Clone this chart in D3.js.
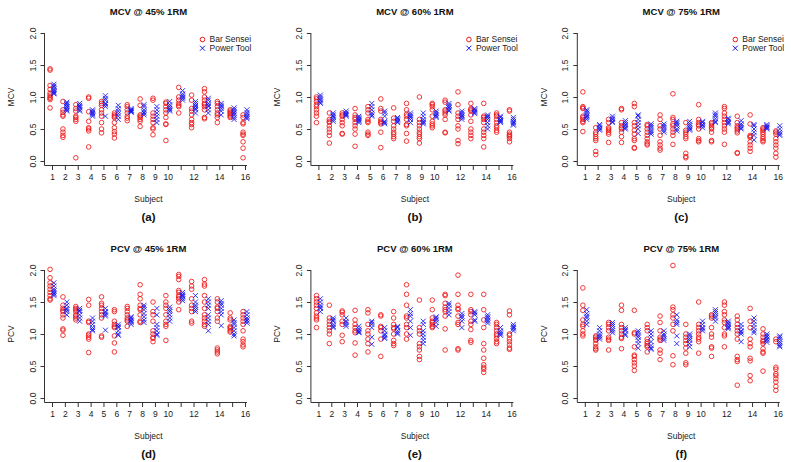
<!DOCTYPE html>
<html>
<head>
<meta charset="utf-8">
<script src="https://cdn.jsdelivr.net/npm/d3@7/dist/d3.min.js"></script>
<style>
  html, body { margin: 0; padding: 0; background: #fff; }
  svg { display: block; font-family: "Liberation Sans", Arial, sans-serif; }
</style>
</head>
<body>
<svg id="chart" width="791" height="462"></svg>
<script>
// ---------------- DATA ----------------
const subjects = d3.range(1, 17);
const xTickLabels = ["1","2","3","4","5","6","7","8","9","10","","12","","14","","16"];
const yTicks = [0, 0.5, 1.0, 1.5, 2.0];
const seriesNames = ["Bar Sensei", "Power Tool"];
const panelTitles = ["MCV @ 45% 1RM", "MCV @ 60% 1RM", "MCV @ 75% 1RM",
                     "PCV @ 45% 1RM", "PCV @ 60% 1RM", "PCV @ 75% 1RM"];
const yLabels = ["MCV", "MCV", "MCV", "PCV", "PCV", "PCV"];
const captions = ["(a)", "(b)", "(c)", "(d)", "(e)", "(f)"];

const mcv45Bar = [
  [1.44,1.42,1.18,1.12,1.06,1.03,1.0,0.98,0.96,0.83],
  [0.93,0.8,0.76,0.72,0.7,0.5,0.45,0.4,0.37],
  [0.88,0.82,0.78,0.7,0.68,0.65,0.62,0.05],
  [1.0,0.98,0.77,0.62,0.52,0.5,0.47,0.22],
  [0.93,0.9,0.87,0.8,0.75,0.7,0.6,0.5,0.44],
  [0.75,0.72,0.7,0.68,0.6,0.52,0.46,0.42,0.36],
  [0.88,0.85,0.8,0.75,0.7,0.67,0.63],
  [0.97,0.87,0.72,0.7,0.68,0.65,0.62,0.54],
  [0.98,0.95,0.75,0.7,0.65,0.6,0.52,0.5,0.41],
  [0.92,0.9,0.85,0.8,0.75,0.68,0.58,0.57,0.32],
  [1.15,1.0,0.95,0.9,0.87,0.85,0.75],
  [1.03,0.95,0.82,0.78,0.72,0.65,0.6,0.57,0.52],
  [1.13,1.08,1.0,0.95,0.9,0.88,0.85,0.8,0.68,0.66],
  [0.93,0.9,0.85,0.8,0.75,0.72,0.68,0.6],
  [0.8,0.78,0.76,0.74,0.72,0.7,0.68],
  [0.72,0.68,0.6,0.58,0.45,0.42,0.4,0.3,0.2,0.05]
];
const mcv45Power = [
  [1.2,1.17,1.15,1.12,1.1,1.08,1.06,1.05],
  [0.92,0.88,0.85,0.82,0.8,0.78,0.85,0.9],
  [0.9,0.87,0.85,0.83,0.8,0.78],
  [0.8,0.78,0.76,0.74,0.72,0.7],
  [1.02,0.98,0.95,0.9,0.88,0.85,0.7],
  [0.87,0.82,0.78,0.74,0.7,0.65],
  [0.82,0.8,0.79,0.77,0.76,0.78],
  [0.88,0.85,0.8,0.77,0.75,0.72],
  [0.85,0.8,0.75,0.7,0.65,0.6],
  [0.93,0.88,0.85,0.82,0.8,0.78],
  [1.1,1.05,1.02,1.0,0.98,0.95],
  [0.93,0.9,0.87,0.85,0.82,0.8,0.75],
  [0.98,0.95,0.9,0.87,0.85,0.8,0.75],
  [0.9,0.87,0.85,0.82,0.78,0.72],
  [0.83,0.8,0.77,0.75,0.72,0.68,0.65],
  [0.8,0.76,0.73,0.7,0.68,0.66]
];
const mcv60Bar = [
  [1.0,0.97,0.93,0.88,0.85,0.8,0.75,0.7,0.6],
  [0.75,0.65,0.62,0.6,0.55,0.5,0.45,0.4,0.28],
  [0.75,0.72,0.7,0.65,0.6,0.55,0.43,0.42],
  [0.82,0.72,0.68,0.65,0.6,0.55,0.5,0.42,0.23],
  [0.85,0.8,0.75,0.65,0.62,0.6,0.45,0.42,0.4],
  [0.97,0.82,0.78,0.65,0.62,0.6,0.58,0.45,0.21],
  [0.83,0.67,0.62,0.55,0.5,0.45,0.42,0.38,0.35],
  [0.9,0.8,0.73,0.7,0.65,0.57,0.55,0.43,0.31],
  [1.0,0.65,0.6,0.55,0.5,0.45,0.42,0.38,0.35,0.28],
  [0.9,0.88,0.85,0.8,0.7,0.62,0.58,0.55,0.52],
  [0.95,0.92,0.8,0.78,0.75,0.72,0.65,0.45,0.44],
  [1.08,0.88,0.75,0.7,0.65,0.55,0.5,0.32,0.27],
  [0.9,0.82,0.8,0.78,0.72,0.62,0.5,0.45,0.4,0.35],
  [0.9,0.7,0.68,0.65,0.6,0.5,0.45,0.4,0.35,0.22],
  [0.75,0.72,0.7,0.65,0.6,0.55,0.52,0.48,0.45],
  [0.8,0.78,0.45,0.42,0.4,0.38,0.35,0.3]
];
const mcv60Power = [
  [1.03,1.0,0.97,0.95,0.92,0.9],
  [0.75,0.72,0.7,0.68,0.65,0.62],
  [0.78,0.75,0.73,0.72,0.7],
  [0.7,0.68,0.66,0.64,0.62,0.6],
  [0.9,0.85,0.8,0.75,0.72,0.7],
  [0.78,0.75,0.7,0.62,0.6,0.58],
  [0.68,0.66,0.64,0.62,0.6],
  [0.75,0.72,0.7,0.68,0.65,0.6],
  [0.75,0.7,0.65,0.62,0.6,0.58],
  [0.78,0.75,0.72,0.7,0.68],
  [0.9,0.87,0.85,0.83,0.8,0.78],
  [0.78,0.75,0.72,0.7,0.68,0.65],
  [0.82,0.8,0.78,0.76,0.74],
  [0.72,0.7,0.68,0.65,0.6,0.55,0.5],
  [0.7,0.68,0.65,0.63,0.62,0.6],
  [0.68,0.65,0.62,0.6,0.58,0.56]
];
const mcv75Bar = [
  [1.08,0.85,0.83,0.82,0.7,0.68,0.65,0.62,0.6,0.46],
  [0.52,0.45,0.42,0.38,0.35,0.32,0.15,0.1],
  [0.65,0.6,0.52,0.5,0.48,0.45,0.42,0.29],
  [0.82,0.8,0.6,0.55,0.52,0.5,0.45,0.38,0.29],
  [0.9,0.85,0.6,0.55,0.48,0.42,0.35,0.32,0.21,0.2],
  [0.57,0.55,0.5,0.45,0.4,0.35,0.3,0.27,0.25],
  [0.72,0.65,0.55,0.5,0.4,0.3,0.25,0.2,0.17],
  [1.05,0.68,0.65,0.58,0.55,0.5,0.45,0.4,0.26],
  [0.6,0.48,0.45,0.42,0.38,0.35,0.12,0.07,0.05],
  [0.88,0.65,0.6,0.57,0.55,0.5,0.35,0.32,0.3],
  [0.6,0.58,0.55,0.52,0.5,0.45,0.32,0.3],
  [0.85,0.82,0.75,0.7,0.65,0.6,0.55,0.5,0.45,0.26],
  [0.7,0.6,0.55,0.52,0.5,0.47,0.44,0.13,0.12],
  [0.72,0.58,0.4,0.38,0.37,0.3,0.25,0.2,0.15],
  [0.52,0.5,0.48,0.45,0.42,0.38,0.35,0.32,0.3],
  [0.47,0.45,0.42,0.35,0.3,0.25,0.2,0.12,0.06]
];
const mcv75Power = [
  [0.8,0.78,0.75,0.72,0.7,0.68,0.65],
  [0.57,0.55,0.52,0.5,0.48],
  [0.7,0.67,0.65,0.62,0.6],
  [0.63,0.6,0.57,0.55,0.52,0.5],
  [0.72,0.7,0.65,0.6,0.55,0.5,0.43],
  [0.58,0.55,0.52,0.48,0.45,0.42],
  [0.58,0.55,0.52,0.48,0.45],
  [0.62,0.6,0.58,0.55,0.5,0.47],
  [0.62,0.58,0.55,0.52,0.5,0.48],
  [0.62,0.6,0.57,0.55,0.52],
  [0.75,0.72,0.7,0.66,0.62,0.6],
  [0.67,0.65,0.62,0.6,0.58],
  [0.63,0.58,0.55,0.52,0.5],
  [0.57,0.55,0.5,0.45,0.4,0.33],
  [0.57,0.55,0.53,0.52,0.5],
  [0.55,0.5,0.45,0.42,0.4]
];
const pcv45Bar = [
  [2.01,1.88,1.8,1.75,1.7,1.65,1.6,1.55,1.53],
  [1.58,1.45,1.4,1.37,1.35,1.3,1.25,1.08,1.06,0.98],
  [1.43,1.4,1.38,1.35,1.3,1.28,1.25,1.22],
  [1.54,1.45,1.2,1.18,1.0,0.98,0.95,0.92,0.71],
  [1.58,1.48,1.45,1.4,1.35,1.3,1.25,0.97,0.95],
  [1.38,1.35,1.2,1.15,1.12,1.1,0.97,0.86,0.72],
  [1.43,1.4,1.35,1.3,1.25,1.22,1.2,1.12],
  [1.77,1.62,1.55,1.45,1.4,1.38,1.3,1.2,1.18],
  [1.5,1.35,1.3,1.2,1.05,1.0,0.95,0.93,0.88],
  [1.6,1.5,1.45,1.4,1.3,1.2,1.15,1.12,0.9],
  [1.93,1.9,1.85,1.68,1.65,1.6,1.58,1.55,1.5,1.38],
  [1.82,1.75,1.7,1.55,1.45,1.4,1.35,1.2,1.17],
  [1.85,1.78,1.75,1.6,1.5,1.4,1.3,1.25,1.2,1.15,1.12],
  [1.55,1.5,1.42,1.4,1.35,1.25,1.2,0.78,0.75,0.72,0.69],
  [1.33,1.25,1.22,1.12,1.1,1.08,1.05,1.03],
  [1.35,1.3,1.25,1.2,1.15,1.05,0.92,0.88,0.83,0.8]
];
const pcv45Power = [
  [1.8,1.75,1.7,1.67,1.64,1.6,1.62],
  [1.5,1.45,1.4,1.38,1.35,1.3],
  [1.4,1.37,1.35,1.3,1.25,1.2],
  [1.25,1.2,1.15,1.1,1.07,1.05],
  [1.4,1.35,1.33,1.3,1.28,1.06],
  [1.15,1.1,1.05,1.0,0.98,1.12],
  [1.27,1.25,1.22,1.2,1.18,1.15],
  [1.45,1.42,1.38,1.32,1.27,1.22,1.18],
  [1.4,1.3,1.15,1.1,1.05,1.0,0.98],
  [1.42,1.38,1.35,1.3,1.25,1.2],
  [1.65,1.62,1.6,1.58,1.55,1.52],
  [1.6,1.5,1.45,1.42,1.38,1.35],
  [1.55,1.5,1.45,1.4,1.3,1.25,1.2,1.15,1.05],
  [1.52,1.48,1.45,1.4,1.35,1.3,1.13],
  [1.22,1.18,1.15,1.1,1.05,1.0,0.97],
  [1.35,1.3,1.25,1.22,1.2,1.17]
];
const pcv60Bar = [
  [1.6,1.55,1.5,1.45,1.4,1.33,1.28,1.25,1.22,1.1],
  [1.45,1.25,1.2,1.15,1.1,1.05,1.0,0.85],
  [1.36,1.34,1.3,1.2,1.15,0.98,0.88],
  [1.37,1.22,1.15,1.1,1.05,1.02,0.86,0.67],
  [1.38,1.33,1.15,1.05,1.0,0.92,0.85,0.72],
  [1.3,1.28,1.12,1.1,1.05,0.92,0.65],
  [1.35,1.25,1.15,1.1,1.08,1.0,0.9,0.85,0.82],
  [1.77,1.62,1.45,1.28,1.25,1.15,1.1,1.0,0.92],
  [1.53,1.1,1.05,1.0,0.85,0.8,0.75,0.65,0.6],
  [1.53,1.38,1.25,1.2,1.18,1.15,1.12,1.1],
  [1.62,1.6,1.48,1.42,1.38,1.35,1.28,1.08,0.75],
  [1.92,1.62,1.45,1.4,1.38,1.28,1.18,1.15,0.77,0.75],
  [1.62,1.38,1.35,1.3,1.2,1.15,1.07,0.9,0.87],
  [1.62,1.38,1.22,1.1,0.85,0.75,0.62,0.52,0.48,0.45,0.4],
  [1.18,1.15,1.1,1.05,1.0,0.97,0.93,0.88,0.85],
  [1.36,1.3,1.0,0.98,0.92,0.88,0.83,0.78,0.76]
];
const pcv60Power = [
  [1.55,1.5,1.45,1.42,1.4,1.35],
  [1.25,1.22,1.2,1.15,1.12,1.1],
  [1.25,1.2,1.18,1.15,1.12],
  [1.12,1.08,1.05,1.03,1.02],
  [1.2,1.18,1.15,1.1,0.95,0.84],
  [1.1,1.05,1.0,0.95,0.93,0.98],
  [1.12,1.1,1.05,1.02,1.0],
  [1.38,1.32,1.28,1.2,1.1,0.98],
  [1.2,1.15,1.05,1.0,0.95,0.9,0.85],
  [1.27,1.25,1.22,1.18,1.12],
  [1.48,1.45,1.4,1.35,1.3],
  [1.32,1.28,1.25,1.2,1.1],
  [1.35,1.33,1.3,1.22,1.2],
  [1.3,1.27,1.25,1.22,1.2,1.17],
  [1.1,1.05,1.02,1.0,0.98],
  [1.15,1.12,1.1,1.08,1.05]
];
const pcv75Bar = [
  [1.72,1.45,1.37,1.22,1.15,1.12,1.05,1.0,0.97],
  [0.97,0.95,0.92,0.9,0.85,0.8,0.77,0.75],
  [1.18,1.15,1.1,1.05,0.95,0.92,0.9,0.75],
  [1.45,1.37,1.15,1.1,1.05,1.0,0.95,0.93,0.77],
  [1.37,1.02,1.0,0.8,0.67,0.65,0.6,0.55,0.5,0.43],
  [1.15,1.1,1.05,0.92,0.88,0.85,0.82,0.8,0.72],
  [1.28,1.18,1.05,0.95,0.92,0.9,0.75,0.7,0.6],
  [2.07,1.42,1.38,1.3,1.25,1.15,1.05,0.66,0.52],
  [1.15,1.0,0.95,0.9,0.85,0.78,0.7,0.55,0.52],
  [1.5,1.15,1.1,1.05,1.0,0.95,0.92,0.88,0.7],
  [1.3,1.28,1.25,1.1,1.0,0.95,0.8,0.78,0.65],
  [1.5,1.45,1.35,1.3,1.22,1.18,1.1,1.0,0.97,0.8],
  [1.28,1.22,1.15,1.1,1.05,1.0,0.92,0.65,0.6,0.57,0.2],
  [1.4,1.2,1.1,0.92,0.85,0.8,0.62,0.58,0.35,0.27],
  [1.08,1.0,0.95,0.9,0.88,0.85,0.77,0.72,0.7,0.42],
  [0.92,0.88,0.48,0.45,0.38,0.35,0.3,0.25,0.18,0.12]
];
const pcv75Power = [
  [1.38,1.32,1.28,1.25,1.2,1.15],
  [1.1,1.05,1.0,0.97,0.95,0.92],
  [1.18,1.15,1.12,1.08,1.05,1.02],
  [1.1,1.07,1.05,1.0,0.98],
  [1.05,1.02,0.98,0.95,0.9,0.85,0.78],
  [1.05,1.0,0.95,0.88,0.82,0.78,0.76],
  [1.05,1.0,0.97,0.93,0.9],
  [1.3,1.22,1.18,1.15,0.97,0.85],
  [1.0,0.97,0.93,0.9,0.85,0.8],
  [1.2,1.15,1.1,1.08,1.05],
  [1.38,1.35,1.32,1.28,1.25,1.2],
  [1.2,1.17,1.15,1.12,1.1,1.08],
  [1.15,1.1,1.05,1.03,1.0,0.88],
  [1.25,1.2,1.15,1.1,1.05,1.02],
  [1.0,0.97,0.95,0.92,0.9,0.87],
  [0.97,0.95,0.92,0.88,0.85,0.82,0.8]
];

const barData = [mcv45Bar, mcv60Bar, mcv75Bar, pcv45Bar, pcv60Bar, pcv75Bar];
const powerData = [mcv45Power, mcv60Power, mcv75Power, pcv45Power, pcv60Power, pcv75Power];

// ---------------- DRAW ----------------
const svg = d3.select("#chart");
const RED = "#f01818", BLUE = "#1414f0";
const TXT = "#1a1a1a";
const crossPath = "M-2.5,-2.5L2.5,2.5M-2.5,2.5L2.5,-2.5";
const FONT = "Liberation Sans, Arial, sans-serif";

for (let p = 0; p < 6; p++) {
  const col = p % 3, row = Math.floor(p / 3);
  const axisX = 44.5 + col * 266.4;
  const x1 = axisX + 7.5;
  const yTop = 33 + row * 237;
  const x = d3.scaleLinear().domain([1, 16]).range([x1, x1 + 193]);
  const y = d3.scaleLinear().domain([0, 2]).range([yTop + 128, yTop]);
  const xAxisY = y(0) + 4.5;
  const cx = (x(1) + x(16)) / 2;
  const g = svg.append("g");

  // L frame
  g.append("path")
    .attr("d", `M${axisX},${y(2)}V${xAxisY}H${x(16) + 2}`)
    .attr("fill", "none").attr("stroke", "#333").attr("stroke-width", 1);

  // y axis
  const ya = g.append("g").attr("transform", `translate(${axisX},0)`)
    .call(d3.axisLeft(y).tickValues(yTicks).tickSize(4).tickSizeOuter(0).tickFormat(d3.format(".1f")));
  ya.select(".domain").remove();
  ya.selectAll(".tick line").attr("stroke", "#333");
  ya.selectAll(".tick text")
    .attr("x", null).attr("dy", null)
    .attr("transform", "translate(-9,0) rotate(-90)")
    .attr("text-anchor", "middle")
    .attr("font-size", 8.5).attr("fill", TXT).attr("font-family", FONT);

  // x axis
  const xa = g.append("g").attr("transform", `translate(0,${xAxisY})`)
    .call(d3.axisBottom(x).tickValues(subjects).tickSize(4.5).tickSizeOuter(0)
      .tickFormat((d, i) => xTickLabels[i]));
  xa.select(".domain").remove();
  xa.selectAll(".tick line").attr("stroke", "#333");
  xa.selectAll(".tick text").attr("y", 8.5).attr("dy", "0.71em")
    .attr("font-size", 8.5).attr("fill", TXT).attr("font-family", FONT);

  // labels
  g.append("text").attr("x", cx).attr("y", yTop - 18.5).attr("text-anchor", "middle")
    .attr("font-size", 9.5).attr("font-weight", "bold").attr("fill", "#111").text(panelTitles[p]);
  g.append("text").attr("x", cx).attr("y", xAxisY + 36).attr("text-anchor", "middle")
    .attr("font-size", 8.5).attr("fill", TXT).text("Subject");
  g.append("text").attr("transform", `translate(${axisX - 30.5},${y(1)}) rotate(-90)`)
    .attr("text-anchor", "middle").attr("font-size", 8.5).attr("fill", TXT).text(yLabels[p]);
  g.append("text").attr("x", cx).attr("y", xAxisY + 55.5).attr("text-anchor", "middle")
    .attr("font-size", 11.5).attr("font-weight", "bold").attr("fill", "#111").text(captions[p]);

  // points: Bar Sensei (red circles)
  const redPts = [];
  barData[p].forEach((vals, i) => vals.forEach(v => redPts.push({s: subjects[i], v})));
  g.append("g").selectAll("circle").data(redPts).join("circle")
    .attr("cx", d => x(d.s - 0.15)).attr("cy", d => y(d.v)).attr("r", 2.3)
    .attr("fill", "none").attr("stroke", RED).attr("stroke-width", 1).attr("stroke-opacity", 0.85);

  // points: Power Tool (blue crosses)
  const bluePts = [];
  powerData[p].forEach((vals, i) => vals.forEach(v => bluePts.push({s: subjects[i], v})));
  g.append("g").selectAll("path").data(bluePts).join("path")
    .attr("transform", d => `translate(${x(d.s + 0.15)},${y(d.v)})`)
    .attr("d", crossPath)
    .attr("fill", "none").attr("stroke", BLUE).attr("stroke-width", 1).attr("stroke-opacity", 0.85);

  // legend (top row only)
  if (row === 0) {
    const lx = axisX + 158, ly = yTop + 6.5;
    g.append("circle").attr("cx", lx).attr("cy", ly).attr("r", 2.3)
      .attr("fill", "none").attr("stroke", RED).attr("stroke-width", 1);
    g.append("path").attr("transform", `translate(${lx},${ly + 8.7})`).attr("d", crossPath)
      .attr("fill", "none").attr("stroke", BLUE).attr("stroke-width", 1);
    g.append("text").attr("x", lx + 7).attr("y", ly).attr("dy", "0.35em")
      .attr("font-size", 8.5).attr("fill", TXT).text(seriesNames[0]);
    g.append("text").attr("x", lx + 7).attr("y", ly + 8.7).attr("dy", "0.35em")
      .attr("font-size", 8.5).attr("fill", TXT).text(seriesNames[1]);
  }
}
</script>
</body>
</html>
